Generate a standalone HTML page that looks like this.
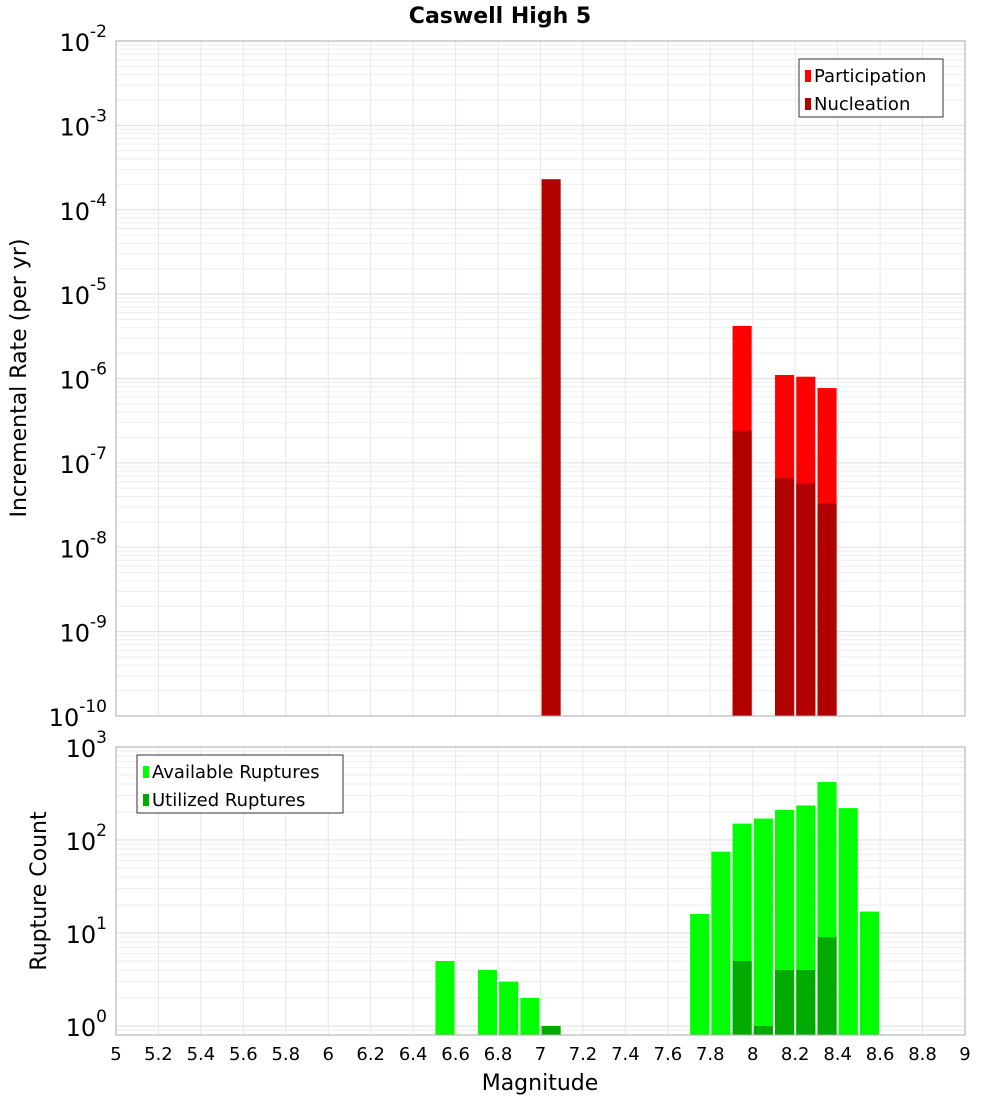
<!DOCTYPE html>
<html><head><meta charset="utf-8"><style>
html,body{margin:0;padding:0;background:#fff;}
svg{display:block;font-family:"DejaVu Sans","Liberation Sans",sans-serif;}
</style></head><body>
<svg id="chart" width="1000" height="1100" xmlns="http://www.w3.org/2000/svg">
<text x="500" y="23" text-anchor="middle" font-size="22" font-weight="bold">Caswell High 5</text>
<g id="topPanel"></g>
<g id="botPanel"></g>
<text transform="translate(26,378) rotate(-90)" text-anchor="middle" font-size="22">Incremental Rate (per yr)</text>
<text transform="translate(46,891) rotate(-90)" text-anchor="middle" font-size="22">Rupture Count</text>
<text x="540" y="1090" text-anchor="middle" font-size="22">Magnitude</text>
</svg>
<script>
const partMags=[7.95,8.15,8.25,8.35];
const partVals=[4.2e-6,1.1e-6,1.05e-6,7.7e-7];
const nucMags=[7.05,7.95,8.15,8.25,8.35];
const nucVals=[2.3e-4,2.4e-7,6.6e-8,5.7e-8,3.3e-8];
const availMags=[6.55,6.75,6.85,6.95,7.75,7.85,7.95,8.05,8.15,8.25,8.35,8.45,8.55];
const availVals=[5,4,3,2,16,75,150,170,210,235,420,220,17];
const usedMags=[7.05,7.95,8.05,8.15,8.25,8.35];
const usedVals=[1,5,1,4,4,9];
const xTicks=[5,5.2,5.4,5.6,5.8,6,6.2,6.4,6.6,6.8,7,7.2,7.4,7.6,7.8,8,8.2,8.4,8.6,8.8,9];
const topExps=[-10,-9,-8,-7,-6,-5,-4,-3,-2];
const botExps=[0,1,2,3];

const NS="http://www.w3.org/2000/svg";
const L=116,R=965;
const xs=m=>L+(m-5)/4*(R-L);
const TT=41,TB=716;
const yTop=v=>TB-(Math.log10(v)+10)*(TB-TT)/8;
const BT=747,BB=1035,dec=93;
const yBot=v=>1026-Math.log10(v)*dec;
function mk(p,t,a){const e=document.createElementNS(NS,t);for(const k in a)e.setAttribute(k,a[k]);p.appendChild(e);return e;}
const topG=document.getElementById('topPanel'),botG=document.getElementById('botPanel');

function grid(g,y0,y1,exps,yf){
  for(const t of xTicks){const l=mk(g,'line',{x1:xs(t),x2:xs(t),y1:y0,y2:y1,stroke:'#e6e6e6'});
    
    }
  for(let i=0;i<exps.length;i++){for(let k=1;k<10;k++){const v=k*Math.pow(10,exps[i]);const yy=yf(v);if(yy<y0-0.5||yy>y1+0.5)continue;
    const l=mk(g,'line',{x1:L,x2:R,y1:yy,y2:yy,stroke:k==1?'#dddddd':'#eeeeee'});
    
    }}
}
grid(topG,TT,TB,topExps,yTop);
grid(botG,BT,BB,[-1,0,1,2],yBot);

function bars(g,mags,vals,yf,base,color,name){
  mags.forEach((m,i)=>{const yy=yf(vals[i]);const r=mk(g,'rect',{x:xs(m-0.045),y:yy,width:xs(0.09)-xs(0),height:Math.max(0,base-yy),fill:color});
    
    });
}
bars(topG,partMags,partVals,yTop,TB,'#ff0000','participation-bar');
bars(topG,nucMags,nucVals,yTop,TB,'#b00000','nucleation-bar');
bars(botG,availMags,availVals,yBot,BB,'#00ff00','available-bar');
bars(botG,usedMags,usedVals,yBot,BB,'#00aa00','utilized-bar');

let f=mk(topG,'rect',{x:L,y:TT,width:R-L,height:TB-TT,fill:'none',stroke:'#aaaaaa'});


f=mk(botG,'rect',{x:L,y:BT,width:R-L,height:BB-BT,fill:'none',stroke:'#aaaaaa'});



function ylabel(g,yy,e,name){const t=mk(g,'text',{x:107,y:yy+10,'text-anchor':'end','font-size':'24'});
  
  
  t.appendChild(document.createTextNode('10'));const s=mk(t,'tspan',{dy:'-14','font-size':'17'});s.textContent=String(e);}
topExps.forEach(e=>ylabel(topG,yTop(Math.pow(10,e)),e,'top-y-tick-label'));
botExps.forEach(e=>ylabel(botG,yBot(Math.pow(10,e)),e,'bottom-y-tick-label'));
xTicks.forEach(t=>{const tx=mk(botG,'text',{x:xs(t),y:1060,'text-anchor':'middle','font-size':'18'});
  
  
  tx.textContent=String(t);});

function legend(g,lx,ly,w,items,name){const lg=mk(g,'g',{});
  
  
  mk(lg,'rect',{x:lx,y:ly,width:w,height:58,fill:'#fff',stroke:'#333'});
  items.forEach((it,i)=>{const r=mk(lg,'rect',{x:lx+6,y:ly+11+i*28,width:6,height:12,fill:it[1]});
    
    
    const t=mk(lg,'text',{x:lx+15,y:ly+23+i*28,'font-size':'18'});
    
    
    t.textContent=it[0];});}
legend(topG,799,59,144,[['Participation','#ff0000'],['Nucleation','#b00000']],'top-legend');
legend(botG,137,755,206,[['Available Ruptures','#00ff00'],['Utilized Ruptures','#00aa00']],'bottom-legend');
</script>
</body></html>
